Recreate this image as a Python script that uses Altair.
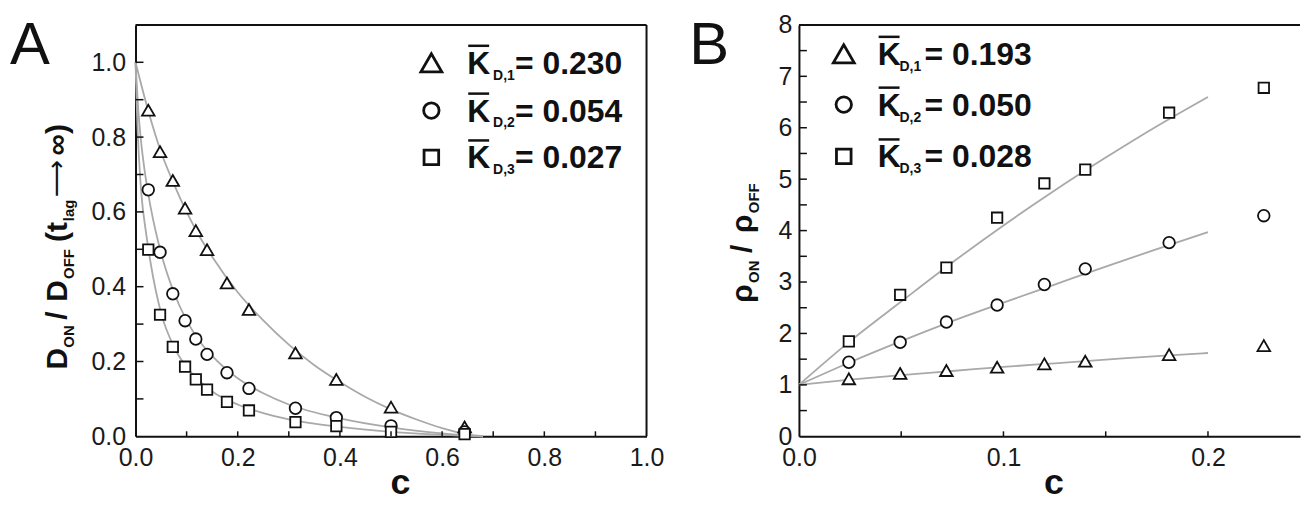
import altair as alt
import pandas as pd

FONT = "Liberation Sans"
BLACK = "#111111"
GRAY = "#a9a9a9"

# ---------------- Panel A data ----------------
a_c = [0.025, 0.048, 0.073, 0.097, 0.118, 0.140, 0.179, 0.222, 0.313, 0.393, 0.500, 0.644]
a_tri = [0.872, 0.761, 0.684, 0.610, 0.550, 0.499, 0.410, 0.339, 0.223, 0.152, 0.078, 0.025]
a_cir = [0.659, 0.492, 0.381, 0.309, 0.260, 0.219, 0.170, 0.128, 0.075, 0.050, 0.028, 0.012]
a_sq = [0.499, 0.325, 0.239, 0.186, 0.152, 0.125, 0.092, 0.069, 0.038, 0.027, 0.012, 0.006]

a_fit_tri_c = [0, 0.025, 0.05, 0.075, 0.1, 0.125, 0.15, 0.2, 0.25, 0.3, 0.35, 0.4, 0.45, 0.5, 0.55, 0.6, 0.65, 0.68]
a_fit_tri = [1.0, 0.87, 0.76, 0.675, 0.60, 0.535, 0.48, 0.385, 0.31, 0.245, 0.19, 0.145, 0.105, 0.072, 0.045, 0.022, 0.005, 0.0]
a_fit_cir_c = [0, 0.005, 0.01, 0.02, 0.03, 0.05, 0.075, 0.1, 0.125, 0.15, 0.2, 0.25, 0.3, 0.4, 0.5, 0.6, 0.68]
a_fit_cir = [1.0, 0.88, 0.80, 0.69, 0.61, 0.49, 0.385, 0.31, 0.255, 0.215, 0.155, 0.115, 0.085, 0.048, 0.024, 0.008, 0.0]
a_fit_sq_c = [0, 0.003, 0.007, 0.012, 0.02, 0.03, 0.05, 0.075, 0.1, 0.125, 0.15, 0.2, 0.25, 0.3, 0.4, 0.5, 0.6, 0.68]
a_fit_sq = [1.0, 0.86, 0.74, 0.64, 0.55, 0.46, 0.33, 0.24, 0.185, 0.148, 0.12, 0.085, 0.062, 0.045, 0.025, 0.012, 0.004, 0.0]

a_xlabels = [0, 0.2, 0.4, 0.6, 0.8, 1.0]
a_ylabels = [0, 0.2, 0.4, 0.6, 0.8, 1.0]
a_xticks = [0.1, 0.2, 0.3, 0.4, 0.5, 0.6, 0.7, 0.8, 0.9]
a_yticks = [0.1, 0.2, 0.3, 0.4, 0.5, 0.6, 0.7, 0.8, 0.9, 1.0]
a_legend_vals = ["0.230", "0.054", "0.027"]

# ---------------- Panel B data ----------------
b_c = [0.0244, 0.0495, 0.0721, 0.0969, 0.120, 0.140, 0.181, 0.2273]
b_tri = [1.118, 1.221, 1.279, 1.343, 1.409, 1.459, 1.589, 1.764]
b_cir = [1.440, 1.828, 2.222, 2.552, 2.952, 3.256, 3.766, 4.289]
b_sq = [1.847, 2.752, 3.281, 4.250, 4.916, 5.187, 6.292, 6.777]

b_fit_c = [0, 0.025, 0.05, 0.075, 0.1, 0.125, 0.15, 0.175, 0.2]
b_fit_tri = [1.0, 1.10, 1.19, 1.27, 1.35, 1.42, 1.49, 1.56, 1.62]
b_fit_cir = [1.0, 1.44, 1.85, 2.24, 2.60, 2.95, 3.30, 3.64, 3.97]
b_fit_sq = [1.0, 1.85, 2.62, 3.38, 4.10, 4.78, 5.42, 6.03, 6.60]

b_xlabels = [0, 0.1, 0.2]
b_ylabels = [0, 1, 2, 3, 4, 5, 6, 7, 8]
b_xticks = [0.05, 0.1, 0.15, 0.2]
b_yticks = [0.5, 1, 1.5, 2, 2.5, 3, 3.5, 4, 4.5, 5, 5.5, 6, 6.5, 7, 7.5]
b_legend_vals = ["0.193", "0.050", "0.028"]

series = ["K1", "K2", "K3"]
shapes = ["triangle-up", "circle", "square"]
ONE = pd.DataFrame({"k": [0]})


def long_df(xs_list, ys_list):
    rows = []
    for name, xs, ys in zip(series, xs_list, ys_list):
        for x, y in zip(xs, ys):
            rows.append({"c": x, "v": y, "s": name})
    return pd.DataFrame(rows)


def text(s, x, y, size, weight="bold", angle=0, align="left", font=FONT):
    kw = dict(text=s, fontSize=size, fontWeight=weight, font=font, align=align,
              baseline="alphabetic", color=BLACK)
    if angle:
        kw["angle"] = angle
    return alt.Chart(ONE).mark_text(**kw).encode(x=alt.value(x), y=alt.value(y))


def rule(x, y, x2=None, y2=None, width=2.0, opacity=1.0):
    enc = dict(x=alt.value(x), y=alt.value(y))
    if x2 is not None:
        enc["x2"] = alt.value(x2)
    if y2 is not None:
        enc["y2"] = alt.value(y2)
    return alt.Chart(ONE).mark_rule(color=BLACK, strokeWidth=width, opacity=opacity).encode(**enc)


def legend_symbol(shape, size, x, y):
    return alt.Chart(ONE).mark_point(shape=shape, size=size, filled=True, fill="white",
                                      stroke=BLACK, strokeWidth=2.8, opacity=1).encode(
        x=alt.value(x), y=alt.value(y))


def legend_rows(vals, sx, ys, kx, subx, eqx):
    layers = []
    sizes = [440, 240, 215]
    for i, (val, y) in enumerate(zip(vals, ys)):
        layers.append(legend_symbol(shapes[i], sizes[i], sx, y))
        base = y + 11
        layers.append(text("K", kx, base, 32))
        layers.append(rule(kx + 1, base - 28, x2=kx + 22, width=2.5))
        layers.append(text("D," + str(i + 1), subx, base + 6, 14))
        layers.append(text("= " + val, eqx, base, 32))
    return layers


def panel(W, H, xdom, ydom, xlabels, ylabels, xfmt, yfmt, ylabpad, pts, fits,
          xticks, yticks, psizes, right_border):
    xs = alt.Scale(domain=xdom, nice=False, zero=False)
    ys = alt.Scale(domain=ydom, nice=False, zero=False)
    xax = alt.Axis(values=xlabels, format=xfmt, title=None, ticks=False, labelPadding=9,
                   grid=False, labelFlush=False)
    yax = alt.Axis(values=ylabels, format=yfmt, title=None, ticks=False, labelPadding=ylabpad,
                   grid=False, labelFlush=False)

    def X(f):
        return alt.X(f + ":Q", scale=xs, axis=xax)

    def Y(f):
        return alt.Y(f + ":Q", scale=ys, axis=yax)

    lines = alt.Chart(fits).mark_line(color=GRAY, strokeWidth=1.8, interpolate="monotone").encode(
        x=X("c"), y=Y("v"), detail="s:N")
    points = alt.Chart(pts).mark_point(filled=True, fill="white", stroke=BLACK, strokeWidth=1.8,
                                       opacity=1).encode(
        x=X("c"), y=Y("v"),
        shape=alt.Shape("s:N", scale=alt.Scale(domain=series, range=shapes), legend=None),
        size=alt.Size("s:N", scale=alt.Scale(domain=series, range=psizes), legend=None))
    xt = alt.Chart(pd.DataFrame({"t": xticks})).mark_rule(color=BLACK, strokeWidth=1.5).encode(
        x=X("t"), y=alt.value(H), y2=alt.value(H - 5))
    yt = alt.Chart(pd.DataFrame({"t": yticks})).mark_rule(color=BLACK, strokeWidth=1.5).encode(
        y=Y("t"), x=alt.value(0), x2=alt.value(8))
    layers = [lines, points, xt, yt, rule(0, 0, x2=W, width=2.0)]
    if right_border:
        layers.append(rule(W, 0, y2=H, width=2.0))
    return layers


# ---------------- Panel A ----------------
WA, HA = 513, 413
layersA = panel(WA, HA, [0, 1], [0, 1.1], a_xlabels, a_ylabels, ".1f", ".1f", 10,
                long_df([a_c] * 3, [a_tri, a_cir, a_sq]),
                long_df([a_fit_tri_c, a_fit_cir_c, a_fit_sq_c], [a_fit_tri, a_fit_cir, a_fit_sq]),
                a_xticks, a_yticks, [160, 110, 95], True)
layersA += [
    rule(-128, -16, x2=-127, opacity=0.0),  # anchors page top-left
    text("A", -126, 39, 60, weight="normal"),
    text("c", 256, 471, 36),
    # y title: D_ON / D_OFF (t_lag -> inf)
    text("D", -69, 346, 30, angle=270),
    text("ON", -62, 324, 15, angle=270),
    text("/", -69, 296, 30, angle=270),
    text("D", -69, 278, 30, angle=270),
    text("OFF", -62, 255, 15, angle=270),
    text("(t", -69, 218, 30, angle=270),
    text("lag", -62, 197, 15, angle=270),
    text("⟶", -71, 173, 26, weight="normal", angle=270, font="DejaVu Sans"),
    text("∞)", -69, 131, 30, angle=270),
]
layersA += legend_rows(a_legend_vals, 297, [38, 86, 133], 333, 359, 381)
chartA = alt.layer(*layersA).properties(width=WA, height=HA)

# ---------------- Panel B ----------------
WB, HB = 503, 413
layersB = panel(WB, HB, [0, 0.245], [0, 8], b_xlabels, b_ylabels, ".1f", "d", 7,
                long_df([b_c] * 3, [b_tri, b_cir, b_sq]),
                long_df([b_fit_c] * 3, [b_fit_tri, b_fit_cir, b_fit_sq]),
                b_xticks, b_yticks, [185, 125, 110], False)
layersB += [
    text("B", -110, 39, 60, weight="normal"),
    text("c", 246, 471, 36),
    text("ρ", -47, 279, 30, angle=270),
    text("ON", -40, 259, 15, angle=270),
    text("/", -47, 229, 30, angle=270),
    text("ρ", -47, 209, 30, angle=270),
    text("OFF", -40, 189, 15, angle=270),
]
layersB += legend_rows(b_legend_vals, 45, [29, 80, 132], 79, 101, 126)
chartB = alt.layer(*layersB).properties(width=WB, height=HB)

chart = alt.hconcat(chartA, chartB, spacing=153, bounds="flush").properties(
    padding=0
).configure_view(strokeWidth=0).configure_axis(
    labelFont=FONT, labelFontSize=25, labelColor="#1a1a1a", domainColor=BLACK, domainWidth=2
)

chart.save("out.html", embed_options={"renderer": "svg", "actions": False})
